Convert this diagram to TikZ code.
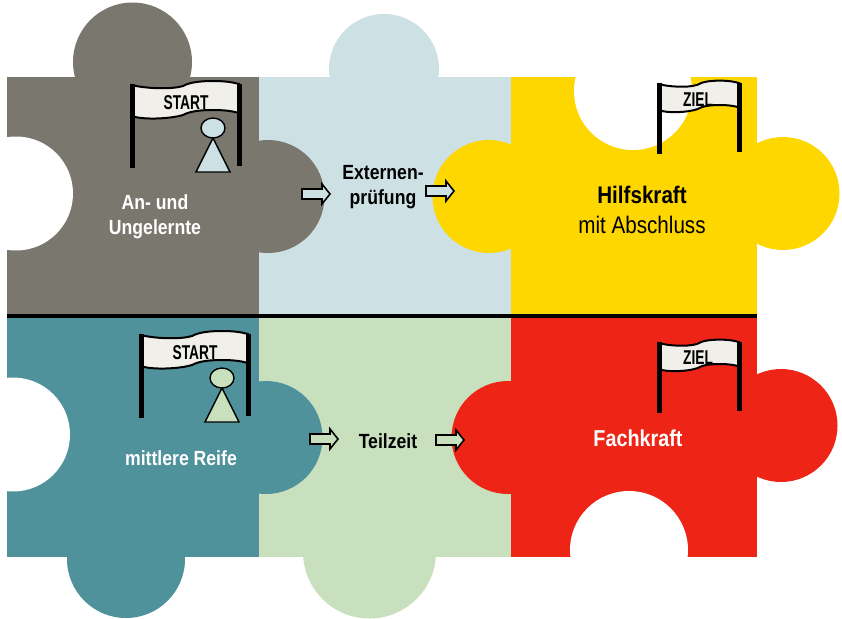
\documentclass[tikz,border=0pt]{standalone}
\usepackage{fontspec}
\setmainfont[FakeStretch=0.86]{Liberation Sans}
\definecolor{greypiece}{HTML}{79776E}
\definecolor{bluepiece}{HTML}{CDE1E4}
\definecolor{yellowpiece}{HTML}{FFD700}
\definecolor{tealpiece}{HTML}{4F929B}
\definecolor{greenpiece}{HTML}{C9E0BE}
\definecolor{redpiece}{HTML}{EE2516}
\definecolor{bannercol}{HTML}{F1EFE9}
\tikzset{
	labeltext/.style={font=\fontsize{20.5}{25}\selectfont\bfseries,align=center,inner sep=0pt},
	flagtext/.style={font=\fontsize{20}{20}\selectfont\bfseries,inner sep=0pt,text=black,xscale=0.8,yscale=-1,transform shape},
	pics/flagbanner/.style={code={
		\draw[fill=bannercol,line width=2pt] (0,0) .. controls (10,3) and (38,5) .. (51,1) .. controls (58,-3) and (70,-4) .. (81,-4) .. controls (92,-4) and (100,-3) .. (107,-1) -- (107,28) .. controls (100,26) and (92,25) .. (81,25) .. controls (70,25) and (58,26) .. (51,30) .. controls (38,34) and (10,35) .. (0,31) -- cycle;
		\draw[line width=5pt] (0,-1) -- (0,83);
		\draw[line width=5pt] (107,-1) -- (107,81);
	}},
	pics/blockarrow/.style={code={
		\draw[fill=#1,line width=1.6pt] (0,-5) -- (20,-5) -- (20,-10) -- (28,0) -- (20,10) -- (20,5) -- (0,5) -- cycle;
	}},
	pics/person/.style={code={
		\draw[fill=#1,line width=1.4pt] (0,10) -- (17,44) -- (-17,44) -- cycle;
		\draw[fill=#1,line width=1.4pt] (0,0) ellipse (12 and 10);
	}}
}
\begin{document}
\begin{tikzpicture}[x=1pt,y=1pt,yscale=-1,xscale=1]
	\path[use as bounding box] (0,0) rectangle (842,618);

	%blue piece
	\fill[bluepiece] (384,69) circle (55);
	\fill[bluepiece] (259,77) rectangle (511,316);
	%green piece
	\fill[greenpiece] (369.5,552) circle (66.5);
	\fill[greenpiece] (259,316) rectangle (511,557);
	%grey piece
	\fill[greypiece] (132.5,62) circle (59.5);
	\fill[greypiece] (268,196.5) circle (56.5);
	\fill[greypiece] (7,77) rectangle (259,316);
	\fill[white] (16,193.5) circle (57);
	\fill[white] (0,130) rectangle (7,260);
	%teal piece
	\fill[tealpiece] (126,559) circle (59);
	\fill[tealpiece] (266,437.5) circle (56.5);
	\fill[tealpiece] (7,316) rectangle (259,557);
	\fill[white] (13,434.5) circle (57);
	\fill[white] (0,370) rectangle (7,500);
	%yellow piece
	\fill[yellowpiece] (489,196.5) circle (56.5);
	\fill[yellowpiece] (783,193.5) circle (56.5);
	\fill[yellowpiece] (511,77) rectangle (757,316);
	\fill[white] (633,91) circle (59);
	\fill[white] (560,20) rectangle (700,77);
	%red piece
	\fill[redpiece] (508,437.5) circle (56.5);
	\fill[redpiece] (781,425.5) circle (56.5);
	\fill[redpiece] (511,316) rectangle (757,557);
	\fill[white] (629,550) circle (59);
	\fill[white] (560,557) rectangle (700,618);
	%line between rows
	\draw[line width=4pt] (7,316) -- (757,316);

	%flags
	\pic[yscale=-1] at (132,85) {flagbanner};
	\node[flagtext] (startA) at (186,103) {START};
	\pic[yscale=-1] at (141,335) {flagbanner};
	\node[flagtext] (startB) at (195,353) {START};
	\pic[xscale=0.75,yscale=-0.84] at (659,84) {flagbanner};
	\node[flagtext] (zielA) at (698,100) {ZIEL};
	\pic[xscale=0.75,yscale=-0.84] at (659,343) {flagbanner};
	\node[flagtext] (zielB) at (698,358) {ZIEL};

	%persons
	\pic[yscale=-1] at (213,128) {person=bluepiece};
	\pic[yscale=-1] at (222,378) {person=greenpiece};

	%arrows
	\pic at (302,194) {blockarrow=bluepiece};
	\pic at (426,191) {blockarrow=bluepiece};
	\pic at (310,439) {blockarrow=greenpiece};
	\pic at (436,440) {blockarrow=greenpiece};

	%labels
	\node[labeltext,text=white] (ungelernte) at (155,216.5) {An- und\\Ungelernte};
	\node[labeltext] (externen) at (383,187) {Externen-\\prüfung};
	\node[labeltext,font=\fontsize{24}{30}\selectfont] (hilfskraft) at (642,210) {\textbf{Hilfskraft}\\mit Abschluss};
	\node[labeltext,text=white] (reife) at (181,458) {mittlere Reife};
	\node[labeltext] (teilzeit) at (388,441) {Teilzeit};
	\node[labeltext,text=white,font=\fontsize{23}{28}\selectfont\bfseries] (fachkraft) at (638,438) {Fachkraft};
\end{tikzpicture}
\end{document}
